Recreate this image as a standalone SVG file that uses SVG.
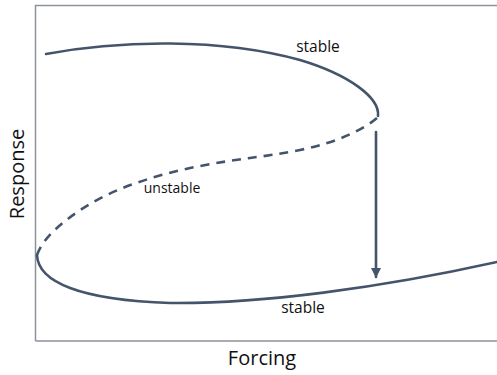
<svg xmlns="http://www.w3.org/2000/svg" width="497" height="375" viewBox="0 0 497 375">
<style>
.curve{fill:none;stroke:#44546a;stroke-width:2.6;stroke-linecap:round}
.dash{stroke-dasharray:9 7;stroke-linecap:butt}
.lbl{font-family:"Open Sans","Liberation Sans",sans-serif;fill:#111}
</style>
<defs>
<marker id="ah" viewBox="0 0 10 10" refX="9" refY="5" markerWidth="4" markerHeight="4" orient="auto">
<path d="M0,0 L10,5 L0,10 z" fill="#44546a"/>
</marker>
</defs>
<rect width="497" height="375" fill="#fff"/>
<g id="axes">
<path d="M35.5,341 V5.5 H497 M35.5,341 H497" fill="none" stroke="#8c939b" stroke-width="1.5"/>
</g>
<g id="connectors">
<path class="curve" d="M46,54 C120,40 220,38 300,60 C350,75 380,98 378,116"/>
<path class="curve dash" d="M377,118 C365,128 340,142 300,150 C265,157 235,159 200,166 C160,174 120,186 90,204 C60,222 42,240 37,255"/>
<path class="curve" d="M37,255 C38,282 80,300 170,303 C260,304 380,288 497,262"/>
<path class="curve" d="M376,132 V277" marker-end="url(#ah)"/>
</g>
<g id="labels">
<text class="lbl" x="318" y="52" font-size="15.5" text-anchor="middle">stable</text>
<text class="lbl" x="172" y="193" font-size="14" text-anchor="middle">unstable</text>
<text class="lbl" x="303" y="313" font-size="15.5" text-anchor="middle">stable</text>
<text class="lbl" x="262" y="365" font-size="20" text-anchor="middle">Forcing</text>
<text class="lbl" transform="translate(24,174) rotate(-90)" font-size="20" text-anchor="middle">Response</text>
</g>
</svg>
